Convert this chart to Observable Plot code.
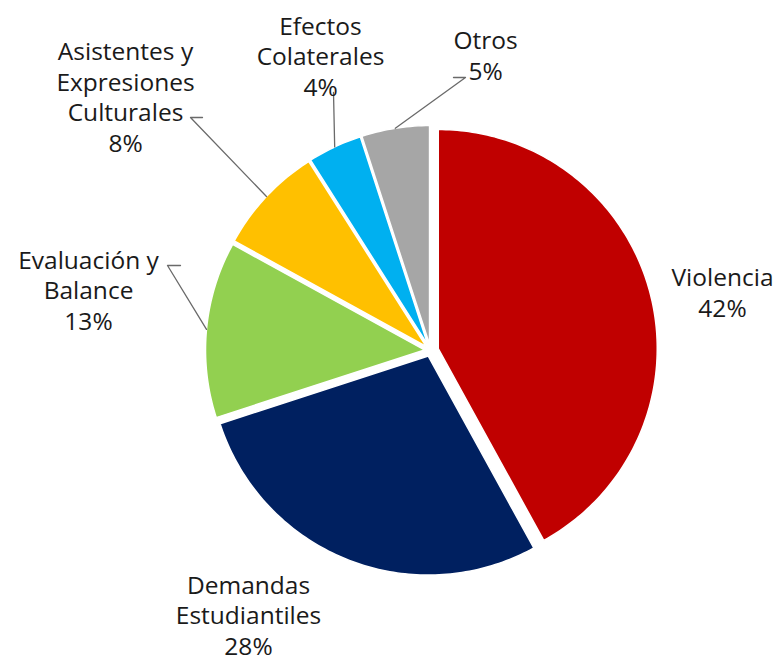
<!DOCTYPE html>
<html>
<head>
<meta charset="utf-8">
<script src="https://cdn.jsdelivr.net/npm/d3@7"></script>
<script src="https://cdn.jsdelivr.net/npm/@observablehq/plot@0.6"></script>
<style>
  html, body { margin: 0; padding: 0; background: #fff; }
  #chart svg { display: block; }
</style>
</head>
<body>
<div id="chart"></div>
<script>
// ---- data ----
const categories = ["Violencia", "Demandas Estudiantiles", "Evaluación y Balance", "Asistentes y Expresiones Culturales", "Efectos Colaterales", "Otros"];
const labelTexts = ["Violencia", "Demandas\nEstudiantiles", "Evaluación y\nBalance", "Asistentes y\nExpresiones\nCulturales", "Efectos\nColaterales", "Otros"];
const values = [42, 28, 13, 8, 4, 5];
const colors = ["#C00000", "#002060", "#92D050", "#FFC000", "#00B0F0", "#A6A6A6"];

// ---- layout (pixels relative to pie centre, y up) ----
const R = 219;
const explode = [8, 6, 6, 6, 6, 6];
const labelPos = [[292, 59], [-182, -264], [-342, 61], [-305, 254.5], [-110, 295], [55, 296]];
const leaderKnees = [null, null, [[-263, 85], [-250, 85]], [[-240, 233], [-228, 233]], [[-97, 258]], [[35, 273], [23, 273]]];

const total = d3.sum(values);
const rad = a => a * Math.PI / 180;
let acc = 0;
const slices = values.map((v, i) => {
  const a0 = acc / total * 360; acc += v;
  const a1 = acc / total * 360;
  const mid = (a0 + a1) / 2;
  const ox = explode[i] * Math.sin(rad(mid)), oy = explode[i] * Math.cos(rad(mid));
  return {i, cat: categories[i], v, a0, a1, mid, ox, oy, color: colors[i]};
});

const polys = [];
for (const s of slices) {
  polys.push({cat: s.cat, color: s.color, x: s.ox, y: s.oy});
  const n = Math.max(2, Math.ceil(s.a1 - s.a0));
  for (let k = 0; k <= n; k++) {
    const a = rad(s.a0 + (s.a1 - s.a0) * k / n);
    polys.push({cat: s.cat, color: s.color, x: s.ox + R * Math.sin(a), y: s.oy + R * Math.cos(a)});
  }
  polys.push({cat: s.cat, color: s.color, x: s.ox, y: s.oy});
}

const labels = slices.map(s => ({
  x: labelPos[s.i][0], y: labelPos[s.i][1],
  text: labelTexts[s.i] + "\n" + Math.round(s.v / total * 100) + "%"
}));

const leaders = [];
for (const s of slices) {
  const knees = leaderKnees[s.i];
  if (!knees) continue;
  for (const [x, y] of knees.slice().reverse()) leaders.push({cat: s.cat, x, y});
  leaders.push({cat: s.cat, x: s.ox + R * Math.sin(rad(s.mid)), y: s.oy + R * Math.cos(rad(s.mid))});
}

const chart = Plot.plot({
  width: 779,
  height: 661,
  margin: 0,
  x: {domain: [-430, 349], axis: null},
  y: {domain: [-311, 350], axis: null},
  color: {type: "identity"},
  style: {fontFamily: "'Open Sans', sans-serif", background: "#fff"},
  marks: [
    Plot.line(polys, {x: "x", y: "y", z: "cat", fill: "color", stroke: "white", strokeWidth: 1.5, strokeLinejoin: "round", curve: "linear"}),
    Plot.line(leaders, {x: "x", y: "y", z: "cat", stroke: "#6a6a6a", strokeWidth: 1.3}),
    Plot.text(labels, {x: "x", y: "y", text: "text", fontSize: 24.5, lineHeight: 1.25, textAnchor: "middle", lineAnchor: "middle", fill: "#1a1a1a"})
  ]
});
document.getElementById("chart").appendChild(chart);
</script>
</body>
</html>
